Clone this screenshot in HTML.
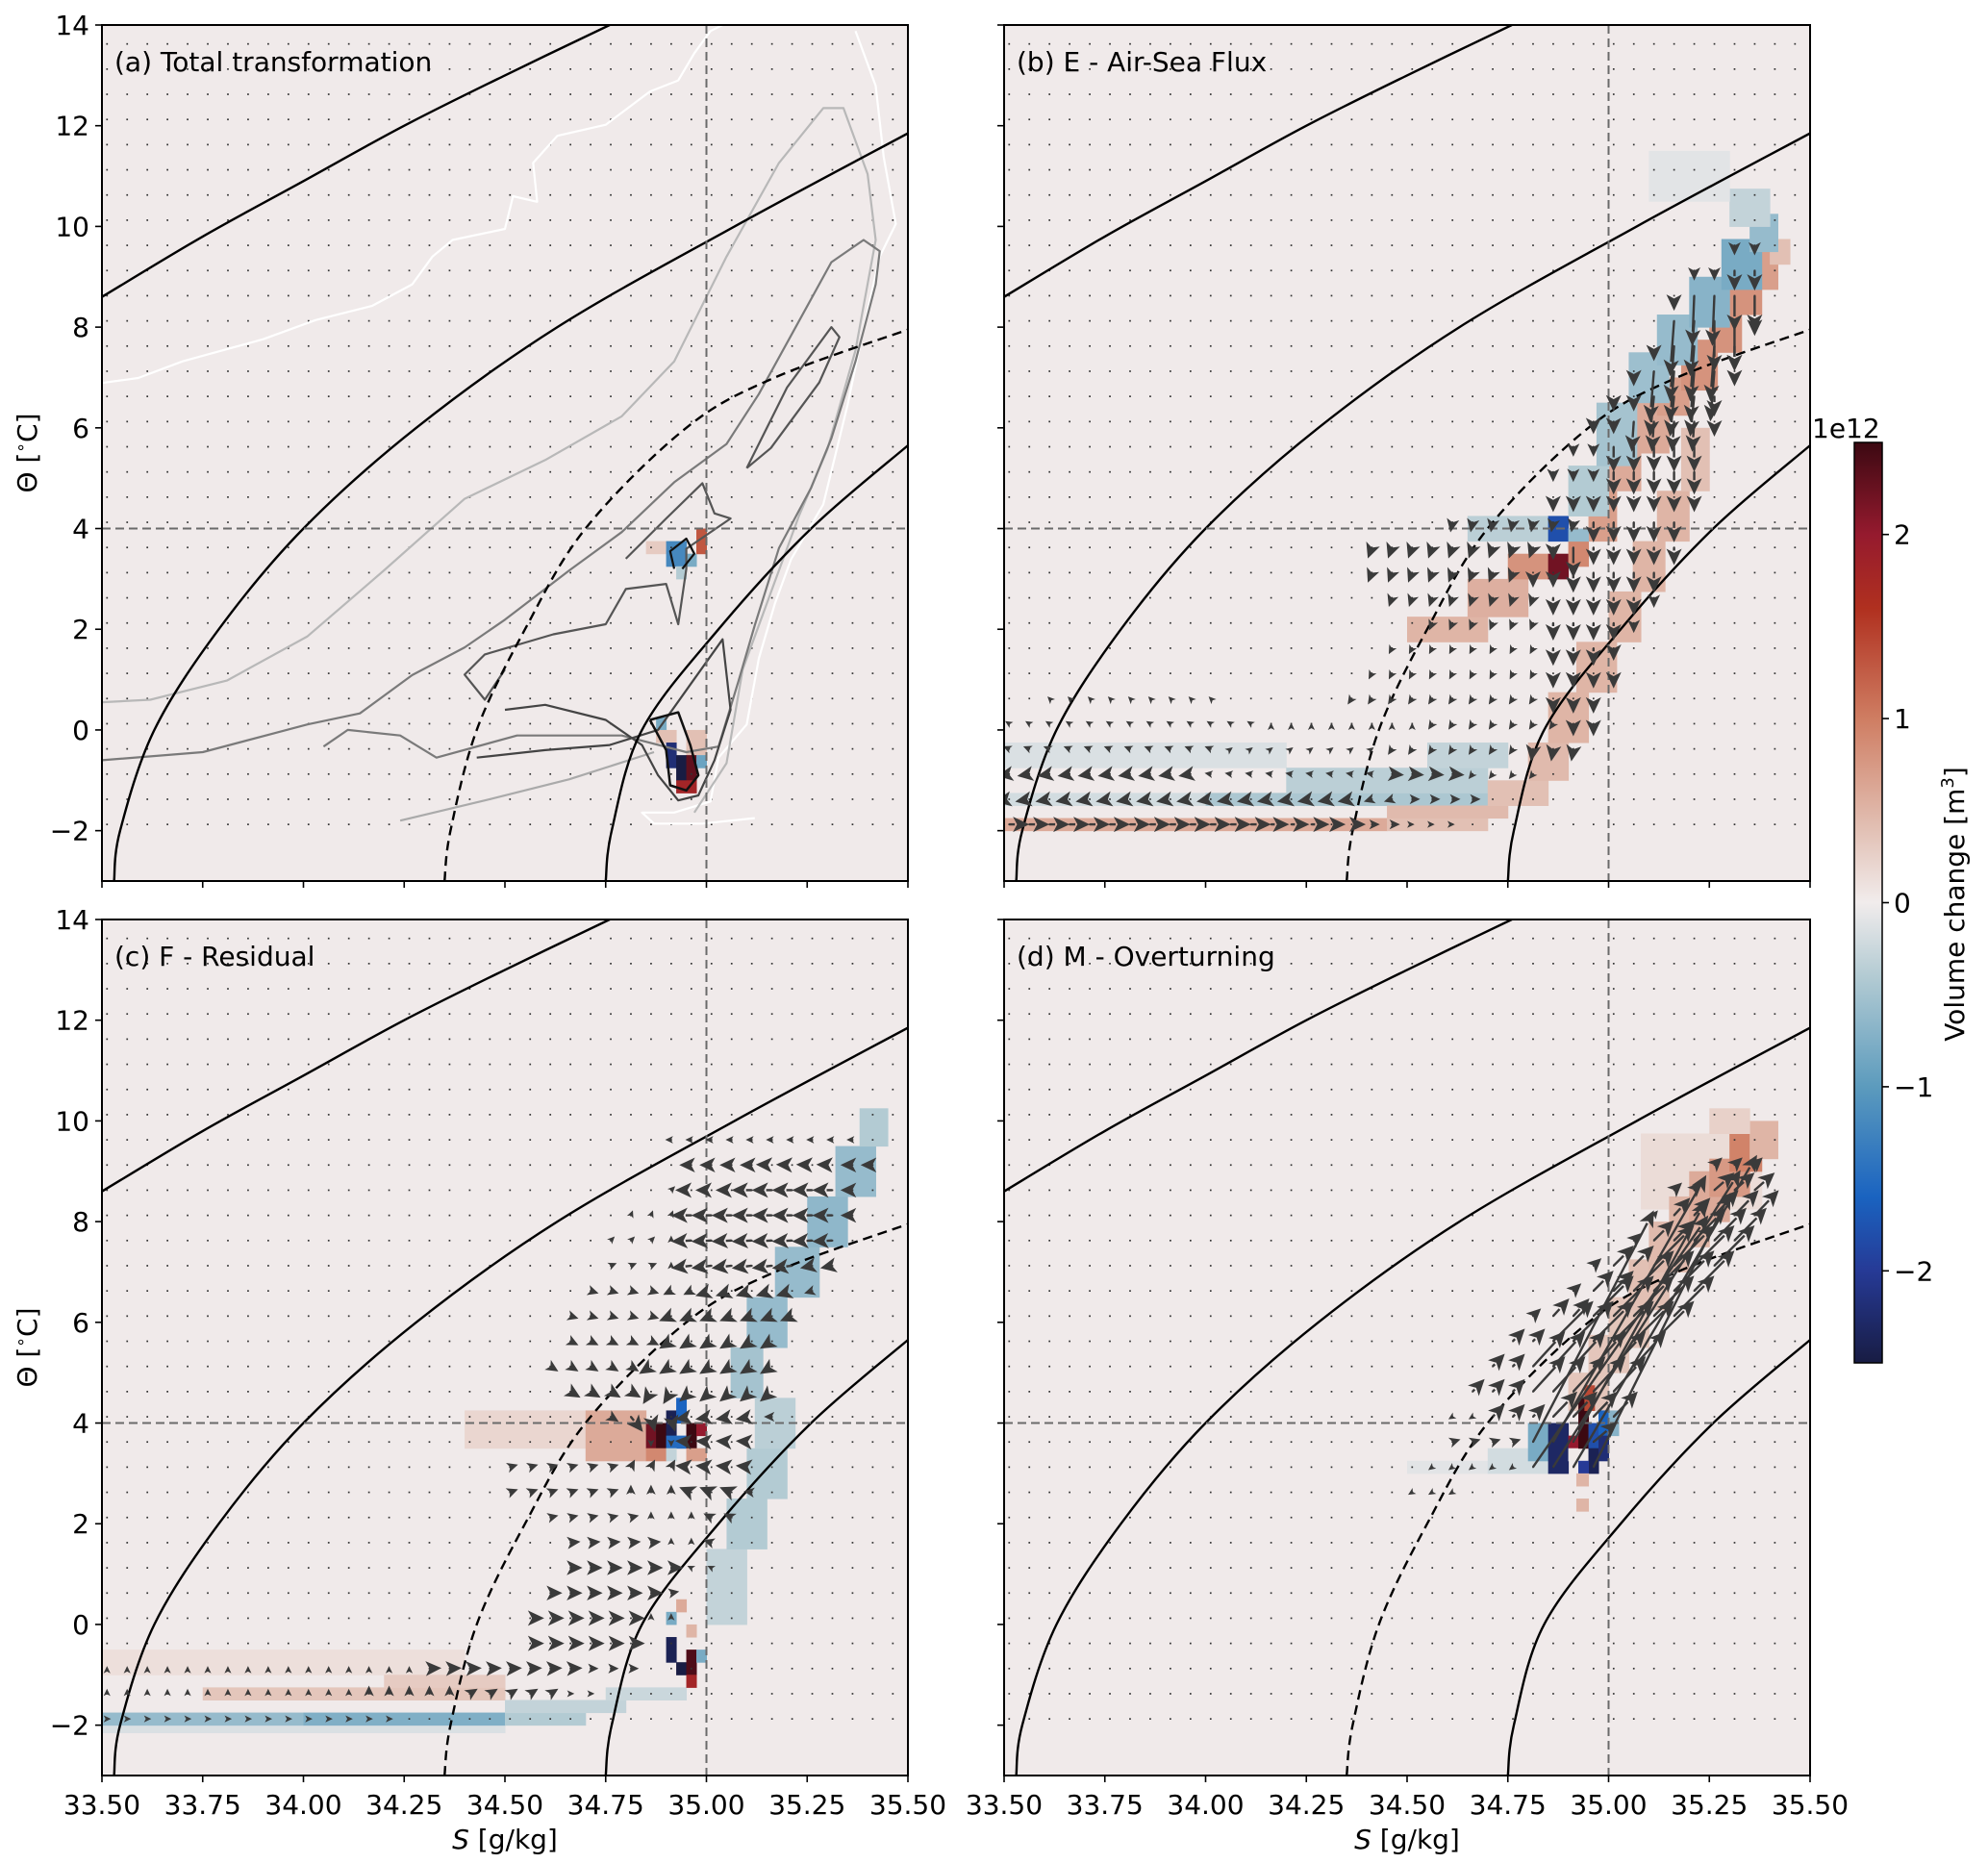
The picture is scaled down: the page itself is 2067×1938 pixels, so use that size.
<!DOCTYPE html>
<html><head><meta charset="utf-8"><style>
html,body{margin:0;padding:0;background:#fff;}
svg{display:block;font-family:"DejaVu Sans","Liberation Sans",sans-serif;}
</style></head>
<body>
<svg id="fig" width="2067" height="1938" viewBox="0 0 2067 1938" xmlns="http://www.w3.org/2000/svg">
<defs>
<linearGradient id="cbgrad" x1="0" y1="1" x2="0" y2="0">
<stop offset="0" stop-color="#181c43"/><stop offset="0.1" stop-color="#263a96"/>
<stop offset="0.18" stop-color="#1a63c0"/><stop offset="0.3" stop-color="#5c9bbd"/>
<stop offset="0.42" stop-color="#b3cbd3"/><stop offset="0.5" stop-color="#f1ecec"/>
<stop offset="0.58" stop-color="#e2c0b4"/><stop offset="0.7" stop-color="#cf7d62"/>
<stop offset="0.82" stop-color="#b0301f"/><stop offset="0.9" stop-color="#951a2e"/>
<stop offset="1" stop-color="#3c0912"/></linearGradient>
</defs>
</svg>
<script>
// ---------------- data ----------------
const sTicks = ["33.50","33.75","34.00","34.25","34.50","34.75","35.00","35.25","35.50"];
const tTicks = [-2,0,2,4,6,8,10,12,14];
const cbTicks = [-2,-1,0,1,2];
const panelLabels = ["(a) Total transformation","(b) E - Air-Sea Flux","(c) F - Residual","(d) M - Overturning"];

// isopycnal curves [S,T]
const iso1 = [[33.5,8.6],[33.75,9.8],[34.0,10.9],[34.25,12.0],[34.5,13.0],[34.76,14.0]];
const iso2 = [[33.53,-3],[33.545,-2],[33.63,0],[33.79,2],[34.0,4],[34.28,6],[34.63,8],[35.07,10],[35.5,11.85]];
const isoDash = [[34.35,-3],[34.365,-2],[34.43,0],[34.55,2],[34.7,4],[34.95,6],[35.17,7],[35.5,7.95]];
const iso4 = [[34.75,-3],[34.765,-2],[34.84,0],[35.03,2],[35.26,4],[35.5,5.65]];

// heatmap rectangles [S0,S1,T0,T1,value(1e12 m3)]
const heatA = [[34.85,34.9,3.5,3.75,0.3],[34.9,34.95,3.25,3.75,-1.2],[34.95,34.975,3.25,3.5,-0.8],[34.975,35.0,3.5,4.0,1.3],[34.925,34.95,3.0,3.25,-0.4],
 [34.875,34.9,0.0,0.25,-0.8],[34.95,35.0,-0.5,0.0,0.4],[34.875,34.925,-0.25,0.0,0.4],[34.9,34.925,-0.75,-0.25,-2.2],[34.925,34.95,-1.0,-0.5,-2.5],
 [34.95,34.975,-1.0,-0.5,2.3],[34.925,34.975,-1.25,-1.0,1.8],[34.975,35.0,-0.75,-0.5,-0.9]];
const heatB = [[33.5,34.2,-0.75,-0.25,-0.15],[33.5,34.0,-1.5,-1.25,-0.2],[34.0,34.7,-1.5,-1.25,-0.45],[34.2,34.7,-1.25,-0.75,-0.35],[34.55,34.75,-0.75,-0.25,-0.3],
 [33.5,34.45,-2.0,-1.75,0.6],[34.45,34.7,-2.0,-1.75,0.4],[34.45,34.75,-1.75,-1.5,0.45],[34.7,34.85,-1.5,-1.0,0.4],
 [34.8,34.9,-1.0,-0.25,0.45],[34.85,34.95,-0.25,0.75,0.5],[34.92,35.02,0.75,1.75,0.5],[35.0,35.08,1.75,2.75,0.5],[35.06,35.14,2.75,3.75,0.5],[35.12,35.2,3.75,4.75,0.5],[35.18,35.25,4.75,6.0,0.4],
 [34.5,34.7,1.75,2.25,0.5],[34.65,34.8,2.25,3.0,0.55],[34.75,34.85,3.0,3.5,0.8],[34.85,34.9,3.0,3.5,2.2],[34.9,34.95,3.25,3.75,0.9],[34.95,35.02,3.75,4.75,0.7],
 [35.0,35.08,4.75,5.5,0.6],[35.06,35.15,5.5,6.5,0.6],[35.12,35.2,6.25,7.0,0.7],[35.18,35.27,6.75,7.75,0.8],[35.25,35.33,7.5,8.5,0.8],[35.3,35.38,8.25,9.0,0.8],[35.35,35.42,8.75,9.5,0.7],[35.4,35.45,9.25,9.75,0.4],
 [34.65,34.85,3.75,4.25,-0.35],[34.85,34.9,3.75,4.25,-1.8],[34.9,34.95,3.75,4.0,-0.6],[34.9,35.0,4.25,5.25,-0.4],[34.97,35.07,5.25,6.5,-0.5],[35.05,35.15,6.5,7.5,-0.55],
 [35.12,35.22,7.25,8.25,-0.6],[35.2,35.3,8.0,9.0,-0.7],[35.28,35.38,8.75,9.75,-0.8],[35.35,35.42,9.5,10.25,-0.6],[35.3,35.4,10.0,10.75,-0.3],[35.1,35.3,10.5,11.5,-0.1]];
const heatC = [[33.5,34.4,-1.0,-0.5,0.12],[33.5,34.5,-2.15,-2.0,-0.15],[33.5,34.0,-2.0,-1.75,-0.6],[34.0,34.5,-2.0,-1.75,-0.75],[34.5,34.7,-2.0,-1.75,-0.4],
 [33.75,34.5,-1.5,-1.25,0.35],[34.2,34.5,-1.25,-1.0,0.3],[34.5,34.8,-1.75,-1.5,-0.3],[34.75,34.95,-1.5,-1.25,-0.25],
 [35.0,35.1,0.0,1.5,-0.3],[35.05,35.15,1.5,2.5,-0.4],[35.1,35.2,2.5,3.5,-0.4],[35.12,35.22,3.5,4.5,-0.35],[35.06,35.14,4.5,5.5,-0.5],[35.1,35.2,5.5,6.5,-0.6],
 [35.17,35.28,6.5,7.5,-0.6],[35.25,35.35,7.5,8.5,-0.65],[35.32,35.42,8.5,9.5,-0.6],[35.38,35.45,9.5,10.25,-0.4],
 [34.4,34.7,3.5,4.25,0.2],[34.7,34.85,3.25,4.25,0.6],[34.85,34.875,3.5,4.0,2.2],[34.875,34.9,3.5,4.0,2.5],[34.9,34.925,3.75,4.25,-2.4],[34.925,34.95,4.0,4.5,-1.6],
 [34.9,34.95,3.5,3.75,-1.5],[34.95,34.975,3.5,4.0,2.5],[34.975,35.0,3.75,4.0,2.0],[34.85,34.9,3.25,3.5,0.9],[34.95,35.0,3.25,3.5,0.7],[34.9,34.925,3.25,3.5,-0.3],
 [34.9,34.925,-0.75,-0.25,-2.4],[34.925,34.95,-1.0,-0.75,-2.5],[34.95,34.975,-1.0,-0.5,2.4],[34.95,34.975,-1.25,-1.0,1.8],[34.975,35.0,-0.75,-0.5,-0.8],
 [34.9,34.925,0.0,0.25,-0.8],[34.925,34.95,0.25,0.5,0.6],[34.95,34.975,-0.25,0.0,0.5]];
const heatD = [[34.5,34.7,3.0,3.25,-0.1],[34.7,34.85,3.0,3.5,-0.2],[35.08,35.38,8.25,9.75,0.15],
 [34.9,35.0,4.25,5.0,0.35],[34.95,35.05,5.0,5.75,0.35],[35.0,35.1,5.5,6.5,0.35],[35.05,35.15,6.25,7.25,0.4],[35.1,35.2,7.0,8.0,0.45],[35.15,35.25,7.5,8.5,0.5],
 [35.2,35.3,8.0,9.0,0.6],[35.25,35.35,8.5,9.25,0.75],[35.3,35.38,9.0,9.75,0.95],[35.35,35.42,9.25,10.0,0.5],[35.25,35.35,9.75,10.25,0.25],
 [34.8,34.85,3.25,4.0,-0.8],[34.85,34.9,3.0,4.0,-2.3],[34.9,34.925,3.5,3.75,2.0],[34.9,34.925,3.25,3.5,0.02],[34.925,34.95,3.5,4.5,2.5],[34.95,34.975,3.5,4.0,-1.8],
 [34.95,34.975,3.0,3.5,-2.4],[34.925,34.95,3.0,3.25,-2.0],[34.975,35.0,3.75,4.25,-1.6],[34.975,35.0,3.25,3.75,-2.2],[35.0,35.025,3.75,4.25,-0.7],
 [34.94,34.965,4.25,4.75,1.4],[34.92,34.95,2.75,3.0,0.5],[34.92,34.95,2.25,2.5,0.5]];

// arrow runs [T, firstColumn, lastColumn, dS, dT]  (columns on the 0.05 g/kg quiver grid)
const arrowsB = [[-1.875,0,12,0.05,0],[-1.875,13,15,0.045,0],[-1.875,16,17,0.035,0],[-1.875,18,19,0.02,0],[-1.875,20,22,0.006,0],
 [-1.375,0,17,-0.035,-0.05],[-1.375,18,19,-0.02,-0.05],[-1.375,20,23,0.02,0],
 [-0.875,0,9,-0.03,-0.04],[-0.875,10,18,-0.015,0.02],[-0.875,19,22,0.03,-0.02],[-0.875,23,26,-0.01,-0.1],
 [-0.375,0,10,-0.015,0.05],[-0.375,11,18,0.005,0.03],[-0.375,19,25,-0.01,-0.12],[-0.375,26,28,-0.005,-0.25],
 [0.125,0,12,-0.01,0.05],[0.125,13,20,0,0.02],[0.125,21,27,-0.01,-0.12],[0.125,28,29,0,-0.25],
 [0.625,2,10,-0.005,0.04],[0.625,17,26,-0.01,-0.12],[0.625,27,29,0,-0.3],
 [1.125,18,26,-0.008,-0.12],[1.125,27,30,0,-0.3],[1.625,19,26,-0.008,-0.12],[1.625,27,29,0,-0.35],[1.625,30,30,0,-0.25],
 [2.125,21,26,-0.008,-0.15],[2.125,27,30,0,-0.35],[2.125,31,31,0,-0.2],[2.625,19,26,-0.008,-0.18],[2.625,27,31,0,-0.35],[2.625,32,32,0,-0.2],
 [3.125,18,25,-0.01,-0.2],[3.125,26,27,0,-0.3],[3.125,28,32,0,-0.4],[3.625,18,26,-0.01,-0.22],[3.625,27,27,0,-0.25],[3.625,28,28,0,-0.6],[3.625,29,33,0,-0.35],
 [4.125,22,28,-0.005,-0.2],[4.125,29,33,0,-0.4],[4.625,27,34,0,-0.3],[5.125,27,29,0,-0.2],[5.125,30,34,0,-0.45],[5.625,28,29,0,-0.2],[5.625,30,34,0,-0.5],
 [6.125,29,30,0,-0.25],[6.125,31,34,-0.005,-0.6],[6.125,35,35,0,-0.3],[6.625,30,31,0,-0.3],[6.625,32,34,-0.01,-0.8],[6.625,35,35,0,-0.4],
 [7.125,31,31,0,-0.3],[7.125,32,35,-0.01,-1.0],[7.125,36,36,0,-0.3],[7.625,32,32,0,-0.3],[7.625,33,35,-0.01,-1.1],[7.625,36,36,0,-0.5],
 [8.125,33,34,-0.01,-1.1],[8.125,35,36,0,-1.0],[8.125,37,37,0,-0.3],[8.625,33,33,0,-0.3],[8.625,34,35,-0.005,-1.0],[8.625,36,37,0,-0.7],
 [9.125,34,35,0,-0.2],[9.125,36,37,0,-0.4],[9.625,36,37,0,-0.2]];
const arrowsC = [[9.625,28,37,-0.015,0],[9.125,29,32,-0.03,0],[9.125,33,36,-0.04,0.01],[9.125,37,38,-0.03,0],
 [8.625,28,28,0.01,0.08],[8.625,29,31,-0.04,0],[8.625,32,36,-0.05,0],[8.625,37,37,-0.03,0],
 [8.125,26,28,0.005,0.1],[8.125,29,36,-0.05,0],[8.125,37,37,-0.03,0],[7.625,25,27,0.01,0.08],[7.625,28,28,0,0.1],[7.625,29,36,-0.05,-0.02],
 [7.125,25,27,0.015,0.05],[7.125,28,28,0,0.08],[7.125,29,34,-0.05,-0.05],[7.125,35,36,-0.03,-0.05],
 [6.625,24,27,0.02,-0.05],[6.625,28,29,-0.02,-0.08],[6.625,30,34,-0.04,-0.1],[6.625,35,35,-0.02,-0.05],
 [6.125,23,27,0.02,-0.05],[6.125,28,34,-0.03,-0.1],[5.625,23,27,0.02,-0.08],[5.625,28,33,-0.03,-0.15],
 [5.125,22,26,0.02,-0.1],[5.125,27,33,-0.03,-0.15],[4.625,23,26,0.025,-0.12],[4.625,27,28,-0.02,-0.25],[4.625,29,33,-0.03,-0.2],
 [4.125,25,25,0.02,-0.1],[4.125,26,26,0.03,-0.3],[4.125,27,28,0.01,-0.3],[4.125,29,32,-0.04,-0.05],[4.125,33,33,-0.02,0],
 [3.625,27,28,0,-0.1],[3.625,29,32,-0.04,0.02],[3.125,20,25,0.02,0.05],[3.125,26,28,0.01,0.15],[3.125,29,32,-0.04,0.03],
 [2.625,20,25,0.02,0.06],[2.625,26,28,0,0.15],[2.625,29,31,-0.03,0.1],[2.625,32,32,-0.02,0.02],
 [2.125,22,26,0.02,0.04],[2.125,27,29,0,0.12],[2.125,30,31,-0.02,0.08],[1.625,23,27,0.025,0.02],[1.625,28,29,0,0.1],[1.625,30,30,-0.02,0.05],
 [1.125,23,28,0.03,0],[1.125,29,30,-0.01,0.04],[0.625,22,27,0.03,0],[0.625,28,28,0.02,0.03],[0.125,21,26,0.035,0],[0.125,27,28,0,0.1],
 [-0.375,21,26,0.035,0],[-0.875,0,15,0,0.05],[-0.875,16,23,0.03,0.01],[-0.875,24,26,0.02,0],
 [-1.375,0,12,0,0.1],[-1.375,13,17,0,0.16],[-1.375,18,22,0.02,0.1],[-1.375,23,24,0.01,0],[-1.875,0,14,0.01,0]];
const arrowsD = [[2.625,20,22,-0.01,-0.05],[3.125,21,25,-0.01,-0.06],[3.625,22,25,0.02,0.05],
 [4.125,22,23,-0.01,-0.05],[4.125,24,26,0.03,0.25],[4.125,27,30,0.06,0.5],[4.625,23,25,0.03,0.25],[4.625,26,30,0.08,0.7],
 [5.125,24,25,0.03,0.25],[5.125,26,31,0.08,0.7],[5.625,25,26,0.03,0.25],[5.625,27,32,0.1,0.8],
 [6.125,26,26,0.02,0.15],[6.125,27,28,0.04,0.35],[6.125,29,33,0.1,0.8],[6.625,28,28,0.02,0.15],[6.625,29,30,0.05,0.4],[6.625,31,34,0.1,0.8],
 [7.125,29,29,0.02,0.15],[7.125,30,31,0.05,0.4],[7.125,32,35,0.1,0.8],[7.625,31,31,0.02,0.15],[7.625,32,33,0.05,0.4],[7.625,34,36,0.08,0.65],
 [8.125,32,32,0.01,0.1],[8.125,33,34,0.04,0.35],[8.125,35,37,0.06,0.5],[8.625,33,34,0.02,0.15],[8.625,35,37,0.05,0.35],[9.125,35,37,0.02,0.15],
 [3.125,26,26,0.435,5.0],[3.125,27,27,0.465,5.9],[3.125,28,28,0.456,6.2],[3.125,29,29,0.34,5.45],
 [3.625,26,26,0.3,4.6],[3.625,27,27,0.38,5.3],[3.625,28,28,0.33,4.8],[3.625,29,29,0.06,0.4]];

// panel (a) contours [S,T]
const contWhite1 = [[33.5,6.89],[33.59,6.99],[33.7,7.32],[33.8,7.54],[33.9,7.76],[34.03,8.14],[34.17,8.42],[34.27,8.85],[34.32,9.4],[34.37,9.73],[34.5,9.95],[34.52,10.6],[34.58,10.49],[34.57,11.26],[34.63,11.8],[34.75,12.02],[34.86,12.68],[34.93,12.9],[34.97,13.44],[35.01,13.88],[35.04,14.0]];
const contWhite2 = [[35.37,13.88],[35.42,12.79],[35.44,11.37],[35.47,10.05],[35.43,9.4],[35.39,7.98],[35.35,6.45],[35.29,4.48],[35.21,3.39],[35.17,2.51],[35.13,1.42],[35.1,0.11],[35.03,-0.55],[35.01,-1.42],[34.92,-1.64],[34.84,-1.64],[34.87,-1.86],[34.99,-1.86],[35.12,-1.75]];
const contLight = [[33.5,0.55],[33.62,0.6],[33.81,0.98],[34.01,1.86],[34.2,3.17],[34.4,4.59],[34.6,5.36],[34.79,6.23],[34.92,7.32],[35.05,9.4],[35.18,11.26],[35.29,12.35],[35.34,12.35],[35.4,11.04],[35.42,9.73],[35.39,8.42],[35.37,7.54],[35.3,5.57],[35.23,4.26],[35.17,2.95],[35.09,1.2],[35.05,-0.66],[34.97,-1.64]];
const contLight2 = [[34.24,-1.8],[34.45,-1.4],[34.66,-0.98],[34.87,-0.44]];
const contMid = [[33.5,-0.6],[33.75,-0.44],[34.01,0.11],[34.14,0.33],[34.27,1.09],[34.4,1.64],[34.5,2.19],[34.66,3.17],[34.79,3.93],[34.92,4.92],[35.05,5.68],[35.13,6.67],[35.22,7.98],[35.31,9.29],[35.39,9.73],[35.43,9.51],[35.42,8.85],[35.37,7.32],[35.31,5.79],[35.26,4.81],[35.18,3.61],[35.12,2.08],[35.08,0.98],[35.03,-0.33],[34.95,-0.44],[34.79,-0.11],[34.53,-0.11],[34.33,-0.55],[34.24,-0.11],[34.11,0.0],[34.05,-0.33]];
const contDark1 = [[34.8,3.4],[34.9,4.2],[34.99,4.9],[35.02,4.3],[35.06,4.2],[34.95,3.6],[34.95,3.2],[34.93,2.1],[34.9,2.9],[34.8,2.8],[34.75,2.1],[34.62,1.9],[34.45,1.5],[34.4,1.1],[34.45,0.6],[34.5,1.2]];
const contDark2 = [[34.43,-0.55],[34.6,-0.4],[34.76,-0.3],[34.88,0.0],[34.96,0.9],[35.04,1.8],[35.06,0.4],[35.02,-0.6],[34.98,-1.3],[34.93,-1.4],[34.88,-0.9],[34.84,-0.3],[34.75,0.2],[34.6,0.5],[34.5,0.4]];
const contDark3 = [[35.1,5.2],[35.2,6.8],[35.31,8.0],[35.33,7.8],[35.28,6.9],[35.16,5.6],[35.1,5.2]];
const contBlack1 = [[34.92,3.2],[34.91,3.55],[34.95,3.8],[34.97,3.5],[34.94,3.2]];
const contBlack2 = [[34.86,0.2],[34.93,0.35],[34.96,-0.3],[34.98,-0.9],[34.95,-1.2],[34.91,-1.1],[34.9,-0.4],[34.86,0.2]];

// ---------------- layout helpers ----------------
const NS = "http://www.w3.org/2000/svg";
const svg = document.getElementById("fig");
const PW = 838, PH = 890, FS = 28;
const panels = [
 {x:106,y:26,heat:heatA,arrows:[],xl:false,yl:true},
 {x:1044,y:26,heat:heatB,arrows:arrowsB,xl:false,yl:false},
 {x:106,y:956,heat:heatC,arrows:arrowsC,xl:true,yl:true},
 {x:1044,y:956,heat:heatD,arrows:arrowsD,xl:true,yl:false}];
function mk(tag, attrs, parent){const e=document.createElementNS(NS,tag);for(const k in attrs)e.setAttribute(k,attrs[k]);(parent||svg).appendChild(e);return e;}
const stops=[[-2.5,[24,28,67]],[-2.0,[38,58,150]],[-1.6,[26,99,192]],[-1.0,[92,155,189]],[-0.4,[179,203,211]],[0,[241,236,236]],[0.4,[226,192,180]],[1.0,[207,125,98]],[1.6,[176,48,31]],[2.0,[149,26,46]],[2.5,[60,9,18]]];
function cmap(v){v=Math.max(-2.5,Math.min(2.5,v));for(let i=0;i<stops.length-1;i++){const a=stops[i],b=stops[i+1];if(v<=b[0]){const t=(v-a[0])/(b[0]-a[0]);const c=a[1].map((x,j)=>Math.round(x+(b[1][j]-x)*t));return `rgb(${c[0]},${c[1]},${c[2]})`;}}return "rgb(60,9,18)";}
function smoothPath(P){let d=`M${P[0][0].toFixed(1)},${P[0][1].toFixed(1)}`;for(let i=0;i<P.length-1;i++){const p0=P[Math.max(0,i-1)],p1=P[i],p2=P[i+1],p3=P[Math.min(P.length-1,i+2)];
 const c1=[p1[0]+(p2[0]-p0[0])/6,p1[1]+(p2[1]-p0[1])/6],c2=[p2[0]-(p3[0]-p1[0])/6,p2[1]-(p3[1]-p1[1])/6];
 d+=` C${c1[0].toFixed(1)},${c1[1].toFixed(1)} ${c2[0].toFixed(1)},${c2[1].toFixed(1)} ${p2[0].toFixed(1)},${p2[1].toFixed(1)}`;}return d;}

panels.forEach((p,pi)=>{
 const sx=S=>p.x+(S-33.5)/2*PW, ty=T=>p.y+(14-T)/17*PH;
 const g=mk("g",{});
 
 
 const clipId="clip"+pi;
 const cp=mk("clipPath",{id:clipId},g);mk("rect",{x:p.x,y:p.y,width:PW,height:PH},cp);
 const bg=mk("rect",{x:p.x,y:p.y,width:PW,height:PH,fill:"#f0eaea"},g);
 
 
 const inner=mk("g",{"clip-path":`url(#${clipId})`},g);
 p.heat.forEach(h=>{
  const r=mk("rect",{x:sx(h[0]),y:ty(h[3]),width:sx(h[1])-sx(h[0])+0.5,height:ty(h[2])-ty(h[3])+0.5,fill:cmap(h[4])},inner);
  
  
 });
 for(let j=0;j<32;j++)for(let k=0;k<40;k++){
  mk("rect",{x:sx(33.5125+0.05*k)-0.8,y:ty(13.625-0.5*j)-0.8,width:1.7,height:1.7,fill:"#333"},inner);
 }
 const pl=(pts,attrs,name)=>{const e=mk("polyline",Object.assign({points:pts.map(q=>sx(q[0]).toFixed(1)+","+ty(q[1]).toFixed(1)).join(" "),fill:"none","stroke-linejoin":"round"},attrs),inner);return e;};
 const sp=(pts,attrs,name)=>{const e=mk("path",Object.assign({d:smoothPath(pts.map(q=>[sx(q[0]),ty(q[1])])),fill:"none"},attrs),inner);return e;};
 if(pi===0){
  pl(contWhite1,{stroke:"#fff","stroke-width":2.2},"contour-white");
  pl(contWhite2,{stroke:"#fff","stroke-width":2.2},"contour-white");
  pl(contLight,{stroke:"#b8b8b8","stroke-width":2.2},"contour-light-gray");
  pl(contLight2,{stroke:"#aaa","stroke-width":2.2},"contour-light-gray");
  pl(contMid,{stroke:"#7a7a7a","stroke-width":2.2},"contour-gray");
  pl(contDark1,{stroke:"#555","stroke-width":2.2},"contour-dark-gray");
  pl(contDark2,{stroke:"#444","stroke-width":2.2},"contour-dark-gray");
  pl(contDark3,{stroke:"#555","stroke-width":2.2},"contour-dark-gray");
  pl(contBlack1,{stroke:"#111","stroke-width":2.2},"contour-black");
  pl(contBlack2,{stroke:"#111","stroke-width":2.5},"contour-black");
 }
 sp(iso1,{stroke:"#000","stroke-width":2.4},"isopycnal");
 sp(iso2,{stroke:"#000","stroke-width":2.4},"isopycnal");
 sp(isoDash,{stroke:"#000","stroke-width":2.4,"stroke-dasharray":"10,6"},"isopycnal-dashed");
 sp(iso4,{stroke:"#000","stroke-width":2.4},"isopycnal");
 const vl=mk("line",{x1:sx(35),x2:sx(35),y1:p.y,y2:p.y+PH,stroke:"#6a6a6a","stroke-width":2,"stroke-dasharray":"9,5"},inner);
 
 
 const hl=mk("line",{x1:p.x,x2:p.x+PW,y1:ty(4),y2:ty(4),stroke:"#6a6a6a","stroke-width":2,"stroke-dasharray":"9,5"},inner);
 
 
 p.arrows.forEach(a=>{
  for(let k=a[1];k<=a[2];k++){
   const x=sx(33.5125+0.05*k), y=ty(a[0]);
   const dx=a[3]/2*PW, dy=-a[4]/17*PH, L=Math.hypot(dx,dy);
   if(L<1)continue;
   const ux=dx/L,uy=dy/L,s=Math.min(1,Math.max(0.45,L/13)),hlen=17*s,hw=8*s;
   const tx=x+dx,tyy=y+dy,bx=tx-ux*hlen,by=tyy-uy*hlen;
   const ag=mk("g",{},inner);
   
   
   if(L>hlen+1)mk("line",{x1:x,y1:y,x2:bx+ux*2,y2:by+uy*2,stroke:"#3a3a3a","stroke-width":2.4},ag);
   mk("polygon",{points:`${tx},${tyy} ${bx-uy*hw},${by+ux*hw} ${bx+ux*hlen*0.25},${by+uy*hlen*0.25} ${bx+uy*hw},${by-ux*hw}`,fill:"#3a3a3a"},ag);
  }
 });
 const fr=mk("rect",{x:p.x,y:p.y,width:PW,height:PH,fill:"none",stroke:"#000","stroke-width":2},g);
 
 
 const lb=mk("text",{x:p.x+13,y:p.y+48,"font-size":FS,fill:"#000"},g);
 lb.textContent=panelLabels[pi];
 
 
 sTicks.forEach((t,i)=>{
  const X=sx(parseFloat(t));
  mk("line",{x1:X,x2:X,y1:p.y+PH,y2:p.y+PH+7,stroke:"#000","stroke-width":1.6},g);
  if(p.xl){const tt=mk("text",{x:X,y:p.y+PH+40,"font-size":FS,"text-anchor":"middle"},g);tt.textContent=t;
   
   }
 });
 tTicks.forEach(t=>{
  const Y=ty(t);
  mk("line",{x1:p.x-7,x2:p.x,y1:Y,y2:Y,stroke:"#000","stroke-width":1.6},g);
  if(p.yl){const tt=mk("text",{x:p.x-13,y:Y+10,"font-size":FS,"text-anchor":"end"},g);tt.textContent=(t<0?"\u2212"+(-t):String(t));
   
   }
 });
 if(p.xl){const xt=mk("text",{x:p.x+PW/2,y:p.y+PH+76,"font-size":FS,"text-anchor":"middle"},g);
  xt.innerHTML='<tspan font-style="italic">S</tspan> [g/kg]';
  
  }
 if(p.yl){const cy=p.y+PH/2;const yt=mk("text",{x:38,y:cy,"font-size":FS,"text-anchor":"middle",transform:`rotate(-90 38 ${cy})`},g);
  yt.innerHTML='Θ [<tspan font-size="17" dy="-11">∘</tspan><tspan dy="11">C]</tspan>';
  
  }
});

// colorbar
const cbX=1928,cbW=29,cbTop=460,cbBot=1417,cbMin=-2.5,cbMax=2.5;
const cbY=v=>cbBot-(v-cbMin)/(cbMax-cbMin)*(cbBot-cbTop);
const cb=mk("rect",{x:cbX,y:cbTop,width:cbW,height:cbBot-cbTop,fill:"url(#cbgrad)",stroke:"#000","stroke-width":1.5});


cbTicks.forEach(v=>{
 const Y=cbY(v);
 mk("line",{x1:cbX+cbW,x2:cbX+cbW+7,y1:Y,y2:Y,stroke:"#000","stroke-width":1.6});
 const t=mk("text",{x:cbX+cbW+12,y:Y+10,"font-size":FS});
 t.textContent=(v<0?"\u2212"+(-v):String(v));
 
 
});
const ex=mk("text",{x:1884,y:455,"font-size":FS});
ex.textContent="1e12";


const cl=mk("text",{x:2042,y:940,"font-size":FS,"text-anchor":"middle",transform:"rotate(-90 2042 940)"});
cl.innerHTML='Volume change [m<tspan font-size="18" dy="-11">3</tspan><tspan dy="11">]</tspan>';


</script>
</body></html>
